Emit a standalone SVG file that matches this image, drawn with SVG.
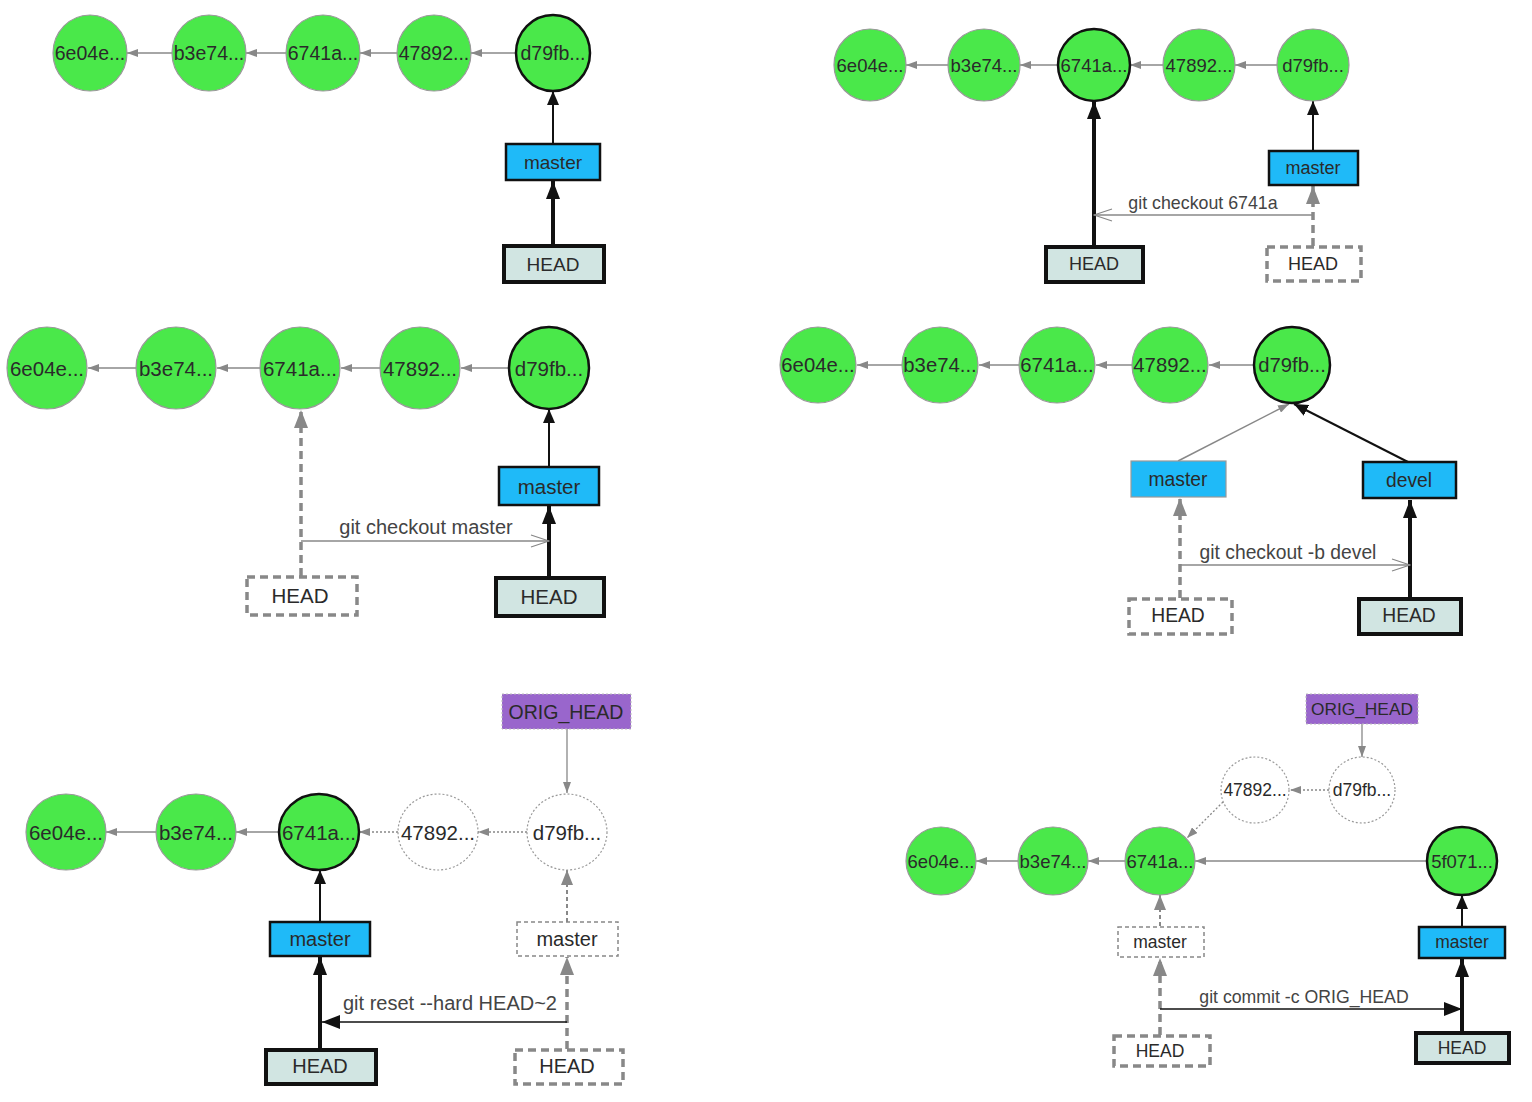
<svg xmlns="http://www.w3.org/2000/svg" width="1532" height="1102" viewBox="0 0 1532 1102">
<style>
.c{fill:#4ae84a;stroke:#999;stroke-width:1.2}
.ck{fill:#4ae84a;stroke:#111;stroke-width:2.5}
.cd{fill:#fff;stroke:#999;stroke-width:1.2;stroke-dasharray:2 2}
.b{fill:#1fbaf8;stroke:#111;stroke-width:2.5}
.bg{fill:#1fbaf8;stroke:#999;stroke-width:1.2}
.bd{fill:#fff;stroke:#888;stroke-width:1.5;stroke-dasharray:4 3}
.h{fill:#d1e5e2;stroke:#111;stroke-width:4}
.hd{fill:#fff;stroke:#888;stroke-width:3.5;stroke-dasharray:8 5}
.o{fill:#9966cc;stroke:#bbb;stroke-width:1;stroke-dasharray:2 2}
.t{font-family:"Liberation Sans",Arial,sans-serif;fill:#2a2a2a;text-anchor:middle;dominant-baseline:central}
.l{font-family:"Liberation Sans",Arial,sans-serif;fill:#444;text-anchor:middle}
.eg{stroke:#888;stroke-width:1.3;fill:none;marker-end:url(#ag)}
.egd{stroke:#888;stroke-width:1.3;fill:none;stroke-dasharray:2 2;marker-end:url(#ag)}
.ek{stroke:#111;stroke-width:2;fill:none;marker-end:url(#ak)}
.ekk{stroke:#111;stroke-width:4;fill:none;marker-end:url(#akk)}
.edd{stroke:#888;stroke-width:3.5;fill:none;stroke-dasharray:8 5;marker-end:url(#agg)}
.ed{stroke:#888;stroke-width:2;fill:none;stroke-dasharray:4 3;marker-end:url(#agm)}
.lo{stroke:#888;stroke-width:1.3;fill:none;marker-end:url(#ao)}
.lk{stroke:#111;stroke-width:1.5;fill:none;marker-end:url(#alk)}
</style>
<defs>
<marker id="ag" markerUnits="userSpaceOnUse" markerWidth="11" markerHeight="8" refX="11" refY="4" orient="auto"><path d="M0,0 L11,4 L0,8 z" fill="#888"/></marker>
<marker id="ak" markerUnits="userSpaceOnUse" markerWidth="14" markerHeight="12" refX="14" refY="6" orient="auto"><path d="M0,0 L14,6 L0,12 z" fill="#111"/></marker>
<marker id="akk" markerUnits="userSpaceOnUse" markerWidth="18" markerHeight="14" refX="18" refY="7" orient="auto"><path d="M0,0 L18,7 L0,14 z" fill="#111"/></marker>
<marker id="agg" markerUnits="userSpaceOnUse" markerWidth="18" markerHeight="14" refX="18" refY="7" orient="auto"><path d="M0,0 L18,7 L0,14 z" fill="#888"/></marker>
<marker id="agm" markerUnits="userSpaceOnUse" markerWidth="15" markerHeight="12" refX="15" refY="6" orient="auto"><path d="M0,0 L15,6 L0,12 z" fill="#888"/></marker>
<marker id="ao" markerUnits="userSpaceOnUse" markerWidth="20" markerHeight="14" refX="19" refY="7" orient="auto"><path d="M1,1 L19,7 L1,13" fill="none" stroke="#888" stroke-width="1.3"/></marker>
<marker id="alk" markerUnits="userSpaceOnUse" markerWidth="18" markerHeight="14" refX="18" refY="7" orient="auto"><path d="M0,0 L18,7 L0,14 z" fill="#111"/></marker>
</defs>

<!-- ===== Panel 1 ===== -->
<g id="p1-connectors">
<line class="eg" x1="172" y1="53" x2="127" y2="53"/>
<line class="eg" x1="286" y1="53" x2="246" y2="53"/>
<line class="eg" x1="397" y1="53" x2="360" y2="53"/>
<line class="eg" x1="516" y1="53" x2="471" y2="53"/>
<line class="ek" x1="553" y1="144" x2="553" y2="91"/>
<line class="ekk" x1="553" y1="245" x2="553" y2="181"/>
</g>
<g id="p1-6e04e"><ellipse class="c" cx="90" cy="53" rx="37" ry="38"/><text class="t" x="90" y="53" font-size="19.5">6e04e...</text></g>
<g id="p1-b3e74"><ellipse class="c" cx="209" cy="53" rx="37" ry="38"/><text class="t" x="209" y="53" font-size="19.5">b3e74...</text></g>
<g id="p1-6741a"><ellipse class="c" cx="323" cy="53" rx="37" ry="38"/><text class="t" x="323" y="53" font-size="19.5">6741a...</text></g>
<g id="p1-47892"><ellipse class="c" cx="434" cy="53" rx="37" ry="38"/><text class="t" x="434" y="53" font-size="19.5">47892...</text></g>
<g id="p1-d79fb"><ellipse class="ck" cx="553" cy="53" rx="37" ry="38"/><text class="t" x="553" y="53" font-size="19.5">d79fb...</text></g>
<g id="p1-master"><rect class="b" x="506" y="144" width="94" height="36"/><text class="t" x="553" y="162" font-size="19">master</text></g>
<g id="p1-HEAD"><rect class="h" x="504" y="246" width="100" height="36"/><text class="t" x="553" y="264" font-size="19">HEAD</text></g>

<!-- ===== Panel 2 ===== -->
<g id="p2-connectors">
<line class="eg" x1="948" y1="65" x2="906" y2="65"/>
<line class="eg" x1="1058" y1="65" x2="1020" y2="65"/>
<line class="eg" x1="1163" y1="65" x2="1130" y2="65"/>
<line class="eg" x1="1277" y1="65" x2="1235" y2="65"/>
<line class="ek" x1="1313" y1="151" x2="1313" y2="101"/>
<line class="ekk" x1="1094" y1="247" x2="1094" y2="101"/>
<line class="edd" x1="1313" y1="246" x2="1313" y2="186"/>
<line class="lo" x1="1313" y1="215" x2="1094" y2="215"/>
<text class="l" x="1203" y="209" font-size="17.8">git checkout 6741a</text>
</g>
<g id="p2-6e04e"><ellipse class="c" cx="870" cy="65" rx="36" ry="36"/><text class="t" x="870" y="65" font-size="18.5">6e04e...</text></g>
<g id="p2-b3e74"><ellipse class="c" cx="984" cy="65" rx="36" ry="36"/><text class="t" x="984" y="65" font-size="18.5">b3e74...</text></g>
<g id="p2-6741a"><ellipse class="ck" cx="1094" cy="65" rx="36" ry="36"/><text class="t" x="1094" y="65" font-size="18.5">6741a...</text></g>
<g id="p2-47892"><ellipse class="c" cx="1199" cy="65" rx="36" ry="36"/><text class="t" x="1199" y="65" font-size="18.5">47892...</text></g>
<g id="p2-d79fb"><ellipse class="c" cx="1313" cy="65" rx="36" ry="36"/><text class="t" x="1313" y="65" font-size="18.5">d79fb...</text></g>
<g id="p2-master"><rect class="b" x="1269" y="151" width="89" height="34"/><text class="t" x="1313" y="168" font-size="18">master</text></g>
<g id="p2-HEAD"><rect class="h" x="1046" y="247" width="97" height="35"/><text class="t" x="1094" y="264" font-size="18">HEAD</text></g>
<g id="p2-HEAD-old"><rect class="hd" x="1267" y="247" width="94" height="34"/><text class="t" x="1313" y="264" font-size="18">HEAD</text></g>

<!-- ===== Panel 3 ===== -->
<g id="p3-connectors">
<line class="eg" x1="136" y1="368" x2="88" y2="368"/>
<line class="eg" x1="260" y1="368" x2="217" y2="368"/>
<line class="eg" x1="380" y1="368" x2="341" y2="368"/>
<line class="eg" x1="509" y1="368" x2="461" y2="368"/>
<line class="ek" x1="549" y1="467" x2="549" y2="409"/>
<line class="ekk" x1="549" y1="577" x2="549" y2="506"/>
<line class="edd" x1="301" y1="576" x2="301" y2="410"/>
<line class="lo" x1="301" y1="541" x2="549" y2="541"/>
<text class="l" x="426" y="534" font-size="20">git checkout master</text>
</g>
<g id="p3-6e04e"><ellipse class="c" cx="47" cy="368" rx="40" ry="41"/><text class="t" x="47" y="368" font-size="20.5">6e04e...</text></g>
<g id="p3-b3e74"><ellipse class="c" cx="176" cy="368" rx="40" ry="41"/><text class="t" x="176" y="368" font-size="20.5">b3e74...</text></g>
<g id="p3-6741a"><ellipse class="c" cx="300" cy="368" rx="40" ry="41"/><text class="t" x="300" y="368" font-size="20.5">6741a...</text></g>
<g id="p3-47892"><ellipse class="c" cx="420" cy="368" rx="40" ry="41"/><text class="t" x="420" y="368" font-size="20.5">47892...</text></g>
<g id="p3-d79fb"><ellipse class="ck" cx="549" cy="368" rx="40" ry="41"/><text class="t" x="549" y="368" font-size="20.5">d79fb...</text></g>
<g id="p3-master"><rect class="b" x="499" y="467" width="100" height="38"/><text class="t" x="549" y="486" font-size="20.5">master</text></g>
<g id="p3-HEAD"><rect class="h" x="496" y="578" width="108" height="38"/><text class="t" x="549" y="596" font-size="20.5">HEAD</text></g>
<g id="p3-HEAD-old"><rect class="hd" x="247" y="577" width="110" height="38"/><text class="t" x="300" y="595" font-size="20.5">HEAD</text></g>

<!-- ===== Panel 4 ===== -->
<g id="p4-connectors">
<line class="eg" x1="902" y1="365" x2="857" y2="365"/>
<line class="eg" x1="1019" y1="365" x2="979" y2="365"/>
<line class="eg" x1="1132" y1="365" x2="1096" y2="365"/>
<line class="eg" x1="1254" y1="365" x2="1209" y2="365"/>
<line x1="1178" y1="461" x2="1289" y2="404" stroke="#888" stroke-width="1.5" marker-end="url(#ag)"/>
<line class="ek" x1="1408" y1="462" x2="1294" y2="404"/>
<line class="ekk" x1="1410" y1="598" x2="1410" y2="500"/>
<line class="edd" x1="1180" y1="598" x2="1180" y2="498"/>
<line class="lo" x1="1180" y1="565" x2="1410" y2="565"/>
<text class="l" x="1288" y="559" font-size="19.3">git checkout -b devel</text>
</g>
<g id="p4-6e04e"><ellipse class="c" cx="818" cy="365" rx="38" ry="38"/><text class="t" x="818" y="365" font-size="20.3">6e04e...</text></g>
<g id="p4-b3e74"><ellipse class="c" cx="940" cy="365" rx="38" ry="38"/><text class="t" x="940" y="365" font-size="20.3">b3e74...</text></g>
<g id="p4-6741a"><ellipse class="c" cx="1057" cy="365" rx="38" ry="38"/><text class="t" x="1057" y="365" font-size="20.3">6741a...</text></g>
<g id="p4-47892"><ellipse class="c" cx="1170" cy="365" rx="38" ry="38"/><text class="t" x="1170" y="365" font-size="20.3">47892...</text></g>
<g id="p4-d79fb"><ellipse class="ck" cx="1292" cy="365" rx="38" ry="38"/><text class="t" x="1292" y="365" font-size="20.3">d79fb...</text></g>
<g id="p4-master"><rect class="bg" x="1131" y="461" width="95" height="36"/><text class="t" x="1178" y="479" font-size="19.3">master</text></g>
<g id="p4-devel"><rect class="b" x="1363" y="462" width="93" height="36"/><text class="t" x="1409" y="480" font-size="19.3">devel</text></g>
<g id="p4-HEAD"><rect class="h" x="1359" y="599" width="102" height="35"/><text class="t" x="1409" y="615" font-size="19.3">HEAD</text></g>
<g id="p4-HEAD-old"><rect class="hd" x="1129" y="599" width="103" height="35"/><text class="t" x="1178" y="615" font-size="19.3">HEAD</text></g>

<!-- ===== Panel 5 ===== -->
<g id="p5-connectors">
<line class="eg" x1="156" y1="832" x2="106" y2="832"/>
<line class="eg" x1="279" y1="832" x2="236" y2="832"/>
<line class="egd" x1="398" y1="832" x2="359" y2="832"/>
<line class="egd" x1="527" y1="832" x2="478" y2="832"/>
<line class="eg" x1="567" y1="729" x2="567" y2="793"/>
<line class="ek" x1="320" y1="922" x2="320" y2="870"/>
<line class="ekk" x1="320" y1="1049" x2="320" y2="957"/>
<line class="ed" x1="567" y1="922" x2="567" y2="870"/>
<line class="edd" x1="567" y1="1049" x2="567" y2="957"/>
<line class="lk" x1="567" y1="1022" x2="322" y2="1022"/>
<text class="l" x="450" y="1010" font-size="20">git reset --hard HEAD~2</text>
</g>
<g id="p5-ORIG_HEAD"><rect class="o" x="502" y="694" width="129" height="35"/><text class="t" x="566" y="712" font-size="19.5" fill="#333">ORIG_HEAD</text></g>
<g id="p5-6e04e"><ellipse class="c" cx="66" cy="832" rx="40" ry="38"/><text class="t" x="66" y="832" font-size="20.5">6e04e...</text></g>
<g id="p5-b3e74"><ellipse class="c" cx="196" cy="832" rx="40" ry="38"/><text class="t" x="196" y="832" font-size="20.5">b3e74...</text></g>
<g id="p5-6741a"><ellipse class="ck" cx="319" cy="832" rx="40" ry="38"/><text class="t" x="319" y="832" font-size="20.5">6741a...</text></g>
<g id="p5-47892"><ellipse class="cd" cx="438" cy="832" rx="40" ry="38"/><text class="t" x="438" y="832" font-size="20.5" fill="#444">47892...</text></g>
<g id="p5-d79fb"><ellipse class="cd" cx="567" cy="832" rx="40" ry="38"/><text class="t" x="567" y="832" font-size="20.5" fill="#444">d79fb...</text></g>
<g id="p5-master"><rect class="b" x="270" y="922" width="100" height="34"/><text class="t" x="320" y="939" font-size="20">master</text></g>
<g id="p5-master-old"><rect class="bd" x="517" y="922" width="101" height="34"/><text class="t" x="567" y="939" font-size="20" fill="#333">master</text></g>
<g id="p5-HEAD"><rect class="h" x="266" y="1050" width="110" height="34"/><text class="t" x="320" y="1066" font-size="20">HEAD</text></g>
<g id="p5-HEAD-old"><rect class="hd" x="515" y="1050" width="108" height="34"/><text class="t" x="567" y="1066" font-size="20">HEAD</text></g>

<!-- ===== Panel 6 ===== -->
<g id="p6-connectors">
<line class="eg" x1="1018" y1="861" x2="976" y2="861"/>
<line class="eg" x1="1125" y1="861" x2="1088" y2="861"/>
<line class="eg" x1="1427" y1="861" x2="1195" y2="861"/>
<line class="egd" x1="1329" y1="790" x2="1290" y2="790"/>
<line class="egd" x1="1223" y1="802" x2="1187" y2="838"/>
<line class="eg" x1="1362" y1="724" x2="1362" y2="757"/>
<line class="ed" x1="1160" y1="926" x2="1160" y2="895"/>
<line class="edd" x1="1160" y1="1035" x2="1160" y2="958"/>
<line class="ek" x1="1462" y1="926" x2="1462" y2="895"/>
<line class="ekk" x1="1462" y1="1032" x2="1462" y2="959"/>
<line class="lk" x1="1160" y1="1009" x2="1462" y2="1009"/>
<text class="l" x="1304" y="1003" font-size="17.7">git commit -c ORIG_HEAD</text>
</g>
<g id="p6-ORIG_HEAD"><rect class="o" x="1306" y="694" width="112" height="30"/><text class="t" x="1362" y="709" font-size="17.3" fill="#333">ORIG_HEAD</text></g>
<g id="p6-47892"><ellipse class="cd" cx="1255" cy="790" rx="34" ry="33"/><text class="t" x="1255" y="790" font-size="17.5" fill="#444">47892...</text></g>
<g id="p6-d79fb"><ellipse class="cd" cx="1362" cy="790" rx="33" ry="33"/><text class="t" x="1362" y="790" font-size="17.5" fill="#444">d79fb...</text></g>
<g id="p6-6e04e"><ellipse class="c" cx="941" cy="861" rx="35" ry="34"/><text class="t" x="941" y="861" font-size="18.5">6e04e...</text></g>
<g id="p6-b3e74"><ellipse class="c" cx="1053" cy="861" rx="35" ry="34"/><text class="t" x="1053" y="861" font-size="18.5">b3e74...</text></g>
<g id="p6-6741a"><ellipse class="c" cx="1160" cy="861" rx="35" ry="34"/><text class="t" x="1160" y="861" font-size="18.5">6741a...</text></g>
<g id="p6-5f071"><ellipse class="ck" cx="1462" cy="861" rx="35" ry="34"/><text class="t" x="1462" y="861" font-size="18.5">5f071...</text></g>
<g id="p6-master-old"><rect class="bd" x="1118" y="927" width="86" height="30"/><text class="t" x="1160" y="942" font-size="17.5" fill="#333">master</text></g>
<g id="p6-master"><rect class="b" x="1419" y="927" width="86" height="31"/><text class="t" x="1462" y="942" font-size="17.5">master</text></g>
<g id="p6-HEAD-old"><rect class="hd" x="1114" y="1036" width="96" height="30"/><text class="t" x="1160" y="1051" font-size="17.5">HEAD</text></g>
<g id="p6-HEAD"><rect class="h" x="1416" y="1033" width="93" height="30"/><text class="t" x="1462" y="1048" font-size="17.5">HEAD</text></g>
</svg>
